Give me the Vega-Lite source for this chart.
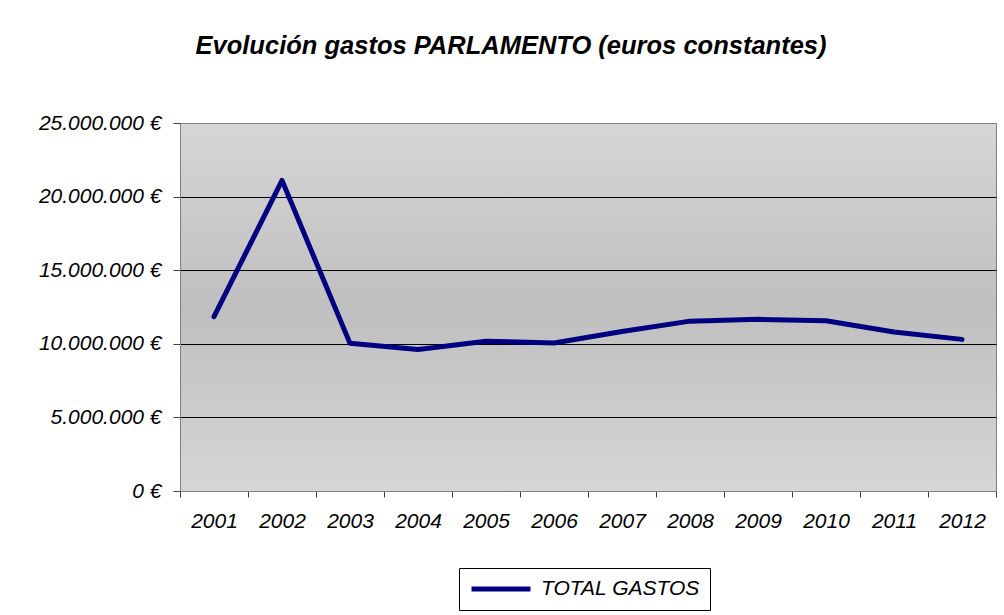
{
  "$schema": "https://vega.github.io/schema/vega-lite/v6.json",
  "width": 816,
  "height": 368,
  "autosize": "none",
  "padding": {"left": 180, "top": 123, "right": 8, "bottom": 124},
  "background": "white",
  "title": {
    "text": "Evolución gastos PARLAMENTO (euros constantes)",
    "font": "Liberation Sans",
    "fontSize": 25.5,
    "fontStyle": "italic",
    "fontWeight": "bold",
    "color": "black",
    "anchor": "middle",
    "dx": -77,
    "offset": 53
  },
  "data": {
    "values": [
      {"year": "2001", "gasto": 11840000, "serie": "TOTAL GASTOS"},
      {"year": "2002", "gasto": 21100000, "serie": "TOTAL GASTOS"},
      {"year": "2003", "gasto": 10030000, "serie": "TOTAL GASTOS"},
      {"year": "2004", "gasto": 9620000, "serie": "TOTAL GASTOS"},
      {"year": "2005", "gasto": 10180000, "serie": "TOTAL GASTOS"},
      {"year": "2006", "gasto": 10050000, "serie": "TOTAL GASTOS"},
      {"year": "2007", "gasto": 10840000, "serie": "TOTAL GASTOS"},
      {"year": "2008", "gasto": 11540000, "serie": "TOTAL GASTOS"},
      {"year": "2009", "gasto": 11660000, "serie": "TOTAL GASTOS"},
      {"year": "2010", "gasto": 11570000, "serie": "TOTAL GASTOS"},
      {"year": "2011", "gasto": 10800000, "serie": "TOTAL GASTOS"},
      {"year": "2012", "gasto": 10300000, "serie": "TOTAL GASTOS"}
    ]
  },
  "mark": {"type": "line", "strokeWidth": 5, "strokeCap": "round", "strokeJoin": "round"},
  "encoding": {
    "x": {
      "field": "year",
      "type": "ordinal",
      "scale": {"type": "band", "paddingInner": 0, "paddingOuter": 0},
      "axis": {
        "title": null,
        "labelAngle": 0,
        "labelFont": "Liberation Sans",
        "labelFontSize": 21,
        "labelFontStyle": "italic",
        "labelColor": "black",
        "labelPadding": 13,
        "tickBand": "extent",
        "tickSize": 6,
        "tickColor": "#404040",
        "domainColor": "#808080",
        "domainWidth": 1
      }
    },
    "y": {
      "field": "gasto",
      "type": "quantitative",
      "scale": {"domain": [0, 25000000]},
      "axis": {
        "title": null,
        "values": [0, 5000000, 10000000, 15000000, 20000000, 25000000],
        "labelExpr": "replace(format(datum.value, ','), regexp(',', 'g'), '.') + ' €'",
        "labelFont": "Liberation Sans",
        "labelFontSize": 21,
        "labelFontStyle": "italic",
        "labelColor": "black",
        "labelPadding": 12,
        "tickSize": 7,
        "tickColor": "#404040",
        "domainColor": "#808080",
        "grid": true,
        "gridColor": {"condition": {"test": "datum.value == 25000000 || datum.value == 0", "value": "#808080"}, "value": "black"},
        "gridWidth": 1,
        "gridOpacity": 1
      }
    },
    "color": {
      "field": "serie",
      "type": "nominal",
      "scale": {"range": ["#000080"]},
      "legend": {
        "title": null,
        "orient": "none",
        "legendX": 279,
        "legendY": 445,
        "direction": "horizontal",
        "fillColor": "white",
        "strokeColor": "black",
        "padding": 10,
        "clipHeight": 22,
        "symbolType": "stroke",
        "symbolSize": 3481,
        "symbolStrokeWidth": 5,
        "labelFont": "Liberation Sans",
        "labelFontSize": 21,
        "labelFontStyle": "italic",
        "labelColor": "black",
        "labelOffset": 8
      }
    }
  },
  "config": {
    "view": {
      "stroke": "#808080",
      "strokeWidth": 1,
      "fill": {
        "gradient": "linear",
        "x1": 0, "y1": 0, "x2": 0, "y2": 1,
        "stops": [
          {"offset": 0, "color": "#d6d6d6"},
          {"offset": 0.5, "color": "#bfbfbf"},
          {"offset": 1, "color": "#d6d6d6"}
        ]
      }
    }
  }
}
